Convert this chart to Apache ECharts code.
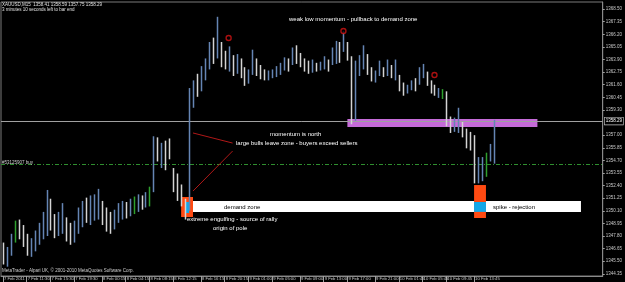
<!DOCTYPE html>
<html><head><meta charset="utf-8">
<script src="https://cdn.jsdelivr.net/npm/echarts@6/dist/echarts.min.js"></script>
<style>html,body{margin:0;padding:0;background:#000;overflow:hidden}#c{width:625px;height:282px}</style>
</head><body><div id="c"></div>
<script>
// ---- data (XAUUSD M15) ----
const barLow = [1345.2,1345.0,1346.0,1347.2,1347.5,1346.8,1346.0,1345.9,1346.4,1347.0,1347.5,1347.8,1348.3,1347.6,1347.8,1348.0,1347.3,1347.0,1347.2,1348.0,
1348.6,1349.0,1348.8,1349.2,1349.3,1348.8,1348.2,1348.0,1348.4,1349.0,1349.3,1349.4,1349.6,1349.8,1350.0,1350.2,1350.4,1350.5,1351.8,1354.6,
1354.0,1353.8,1354.8,1351.8,1351.0,1350.5,1349.3,1350.1,1359.5,1360.5,1361.0,1362.0,1363.0,1363.5,1364.0,1363.2,1363.0,1362.8,1362.4,1362.6,
1362.2,1361.5,1361.7,1362.5,1362.4,1362.1,1362.0,1362.0,1362.2,1362.3,1362.5,1362.9,1362.8,1363.4,1363.5,1363.2,1362.8,1362.6,1362.7,1362.8,
1362.9,1363.0,1362.8,1363.4,1363.5,1363.6,1364.6,1363.8,1358.0,1358.3,1362.4,1363.0,1362.5,1361.9,1361.8,1362.4,1362.3,1362.4,1362.2,1362.0,
1361.0,1360.6,1360.8,1361.1,1361.0,1361.6,1362.2,1361.5,1360.8,1360.6,1360.4,1360.3,1357.8,1357.2,1357.3,1357.2,1356.8,1355.8,1355.6,1352.6,
1352.6,1352.8,1353.2,1354.6,1354.4];
const barHigh = [1347.2,1346.8,1348.0,1349.2,1349.3,1348.8,1348.0,1347.6,1348.3,1349.0,1350.0,1352.0,1351.2,1349.8,1350.0,1350.8,1349.5,1349.0,1349.2,1350.4,
1351.0,1351.3,1351.5,1351.6,1352.1,1351.0,1350.4,1350.0,1350.2,1350.8,1351.0,1350.9,1351.2,1351.4,1351.6,1351.5,1351.8,1352.3,1356.9,1356.8,
1356.3,1356.5,1356.7,1354.0,1353.5,1352.5,1351.2,1361.3,1362.0,1362.6,1363.3,1364.0,1365.5,1365.9,1367.8,1365.5,1364.7,1365.1,1364.3,1364.4,
1364.0,1363.2,1363.0,1364.8,1364.0,1363.4,1363.0,1362.9,1363.0,1363.3,1363.6,1364.1,1364.0,1365.0,1365.2,1364.5,1364.0,1363.8,1363.9,1363.6,
1363.7,1364.2,1363.9,1365.0,1365.6,1365.5,1366.5,1365.5,1364.2,1363.8,1364.3,1365.2,1364.4,1363.2,1362.9,1363.8,1363.2,1363.9,1363.4,1363.9,
1362.5,1361.8,1361.6,1362.0,1362.2,1363.2,1363.5,1362.8,1362.0,1361.6,1361.3,1361.2,1361.0,1358.7,1358.6,1359.5,1358.2,1357.6,1357.3,1357.0,
1355.0,1355.0,1355.4,1356.2,1358.4];
const barDir = ['d','u','u','g','d','d','d','u','u','u','u','u','d','d','u','u','d','d','u','u',
'u','d','u','u','u','d','d','d','u','u','u','d','u','g','u','d','u','g','u','d',
'u','d','d','d','d','d','d','u','u','d','u','u','u','d','u','d','d','u','d','u',
'd','d','u','u','d','d','d','u','u','u','u','u','d','u','d','d','d','d','u','d',
'u','u','d','u','u','d','u','d','d','u','u','u','d','d','u','u','d','u','d','u',
'd','d','u','u','d','u','u','d','d','d','u','g','d','d','u','u','d','d','d','d',
'u','u','g','u','u'];
const slotCount = 152;
const timeSlots = [0,6,12,18,25,31,37,43,50,56,62,68,75,81,87,94,100,106,112,119];
const timeTexts = ['7 Feb 2011','7 Feb 11:30','7 Feb 15:30','7 Feb 19:30','8 Feb 00:15','8 Feb 04:15','8 Feb 08:15','8 Feb 12:15','8 Feb 16:15','8 Feb 20:15',
'9 Feb 01:00','9 Feb 05:00','9 Feb 09:00','9 Feb 13:00','9 Feb 17:00','9 Feb 21:00','10 Feb 01:45','10 Feb 05:45','10 Feb 09:45','10 Feb 13:45'];
const priceTicks = [1368.50,1367.35,1366.20,1365.05,1363.90,1362.75,1361.60,1360.45,1359.30,1357.00,1355.85,1354.70,1353.55,1352.40,1351.25,1350.10,1348.95,1347.80,1346.65,1345.50,1344.35];
const bidPrice = 1358.29;
const orderPrice = 1354.37;
const markerX = [56.5, 86.25, 109.25];
const markerY = [1365.86, 1366.5, 1362.49];

const cats = Array.from({length: slotCount}, (_, i) => { const k = timeSlots.indexOf(i); return k >= 0 ? timeTexts[k] : ''; });
const dirCode = {u: 0, d: 1, g: 2};
const bars = barLow.map((l, i) => [i, l, barHigh[i], dirCode[barDir[i]]]);
const barColors = ['#6585b4', '#d4d4d4', '#2fa02f'];

const FONT = 'Liberation Sans';
const chart = echarts.init(document.getElementById('c'), null, {renderer: 'canvas'});
function txt(x, y, s, size, color) {
  return {type: 'text', left: x, top: y, silent: true, z: 100,
    style: {text: s, fill: color || '#ffffff', font: size + 'px "' + FONT + '"'}};
}
chart.setOption({
  animation: false,
  backgroundColor: '#000000',
  grid: {left: 1, top: 2, right: 15, bottom: 6, show: true, borderColor: '#7a7a7a', borderWidth: 1, backgroundColor: '#000'},
  xAxis: {
    type: 'category', data: cats, boundaryGap: true,
    axisLine: {show: true, lineStyle: {color: '#8a8a8a', width: 1}},
    axisTick: {show: true, alignWithLabel: true, length: 6, interval: (i, v) => v !== '', lineStyle: {color: '#a0a0a0'}},
    axisLabel: {interval: (i, v) => v !== '', hideOverlap: false, align: 'left', margin: 1, padding: [0, 0, 0, 1], fontSize: 4.2, color: '#c8c8c8', fontFamily: FONT},
    splitLine: {show: false}
  },
  yAxis: {
    type: 'value', position: 'right', min: 1344.15, max: 1369.15, scale: true,
    axisLine: {show: true, lineStyle: {color: '#8a8a8a'}},
    axisTick: {show: true, length: 2, customValues: priceTicks, lineStyle: {color: '#a0a0a0'}},
    axisLabel: {customValues: priceTicks, formatter: v => v.toFixed(2), fontSize: 4.5, color: '#c8c8c8', margin: 3, fontFamily: FONT},
    splitLine: {show: false}
  },
  series: [
    {
      type: 'scatter', z: 1, data: [], silent: true,
      markArea: {
        silent: true,
        data: [
          [{xAxis: 45.5, yAxis: 1351.0, itemStyle: {color: '#ffffff', opacity: 1}}, {xAxis: 146, yAxis: 1350.0}],
          [{xAxis: 45.25, yAxis: 1351.36, itemStyle: {color: '#ff4a12', opacity: 1}}, {xAxis: 48, yAxis: 1349.53}],
          [{xAxis: 45.5, yAxis: 1350.9, itemStyle: {color: '#14a8e8', opacity: 1}}, {xAxis: 47.25, yAxis: 1349.9}],
          [{xAxis: 119, yAxis: 1352.45, itemStyle: {color: '#ff4a12', opacity: 1}}, {xAxis: 121.75, yAxis: 1349.44}],
          [{xAxis: 119, yAxis: 1350.9, itemStyle: {color: '#14a8e8', opacity: 1}}, {xAxis: 121.75, yAxis: 1350.0}],
          [{xAxis: 86.75, yAxis: 1358.47, itemStyle: {color: '#c56bd8', opacity: 1}}, {xAxis: 135, yAxis: 1357.74}]
        ]
      },
      markLine: {
        silent: true, symbol: ['none', 'none'],
        data: [
          {yAxis: bidPrice, lineStyle: {color: '#a0a0a0', type: 'solid', width: 1},
            label: {show: true, position: 'end', distance: 2, formatter: bidPrice.toFixed(2), fontSize: 4.5, color: '#ffffff', backgroundColor: '#000', borderColor: '#d0d0d0', borderWidth: 0.6, padding: [1, 1], fontFamily: FONT}},
          {yAxis: orderPrice, lineStyle: {color: '#2f8f2f', type: [4, 2, 1, 2], width: 1}, label: {show: false}},
          [{coord: [47.75, 1357.2], lineStyle: {color: '#b01818', type: 'solid', width: 1}, label: {show: false}}, {coord: [57.75, 1356.28]}],
          [{coord: [58.25, 1355.55], lineStyle: {color: '#b01818', type: 'solid', width: 1}, label: {show: false}}, {coord: [48.25, 1351.9]}]
        ]
      }
    },
    {
      type: 'custom', z: 5, silent: true,
      data: bars,
      encode: {x: 0, y: [1, 2]},
      renderItem: function (params, api) {
        const i = api.value(0);
        const lo = api.coord([i, api.value(1)]);
        const hi = api.coord([i, api.value(2)]);
        const x = Math.round(lo[0]) + 0.5;
        return {type: 'line', shape: {x1: x, y1: lo[1], x2: x, y2: hi[1]},
          style: {stroke: barColors[api.value(3)], lineWidth: 1.5}};
      }
    },
    {
      type: 'scatter', z: 6, silent: true,
      data: markerX.map((x, i) => [x, markerY[i]]),
      symbol: 'circle', symbolSize: 5,
      itemStyle: {color: '#000', borderColor: '#d41414', borderWidth: 1.4}
    }
  ],
  graphic: [
    txt(2, 2, 'XAUUSD,M15  1358.41 1358.59 1357.75 1358.29', 4.5, '#e0e0e0'),
    txt(2, 7, '3 minutes 10 seconds left to bar end', 4.5, '#e0e0e0'),
    txt(289, 16, 'weak low momentum - pullback to demand zone', 6, '#ffffff'),
    txt(270, 131, 'momentum is north', 6, '#ffffff'),
    txt(236, 140, 'large bulls leave zone - buyers exceed sellers', 6, '#ffffff'),
    txt(2, 160, '#53125907 buy', 4.5, '#d0d0d0'),
    txt(224, 204, 'demand zone', 6, '#000000'),
    txt(493, 204, 'spike - rejection', 6, '#000000'),
    txt(187, 216, 'extreme engulfing - source of rally', 6, '#ffffff'),
    txt(213, 225, 'origin of pole', 6, '#ffffff'),
    txt(2, 268, 'MetaTrader - Alpari UK, \u00a9 2001-2010 MetaQuotes Software Corp.', 4.5, '#d0d0d0')
  ]
});
</script>
</body></html>
